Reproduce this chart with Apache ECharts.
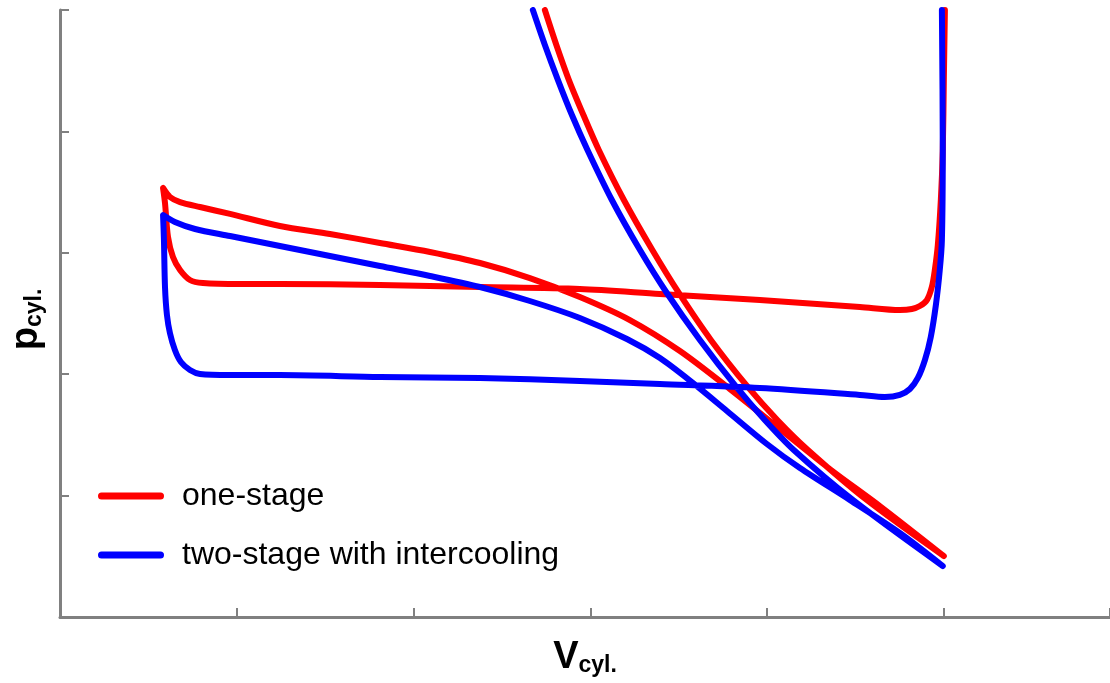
<!DOCTYPE html>
<html>
<head>
<meta charset="utf-8">
<script src="https://cdn.jsdelivr.net/npm/echarts@6/dist/echarts.min.js"></script>
<style>
  html, body { margin: 0; padding: 0; background: #fff; }
  #main { width: 1110px; height: 683px; }
</style>
</head>
<body>
<div id="main"></div>
<script>
// one-stage cycle (V, p in tick units)
var oneStageV = [2.743, 2.808, 2.879, 2.961, 3.048, 3.190, 3.351, 3.501, 3.682, 3.891, 4.058, 4.231, 4.564, 5.000,
    4.638, 4.355, 4.072, 3.790, 3.507, 3.224, 2.941, 2.658, 2.376, 2.093, 1.810, 1.527, 1.244, 0.962, 0.792, 0.679, 0.622, 0.583,
    0.594, 0.611, 0.639, 0.679, 0.735, 0.809, 1.018, 1.244, 1.810, 2.376, 2.941, 3.394, 3.959, 4.525, 4.751, 4.819, 4.864, 4.904, 4.932, 4.949, 4.966, 4.983, 4.994, 5.000, 5.006];
var oneStageP = [5.000, 4.712, 4.423, 4.135, 3.847, 3.435, 3.023, 2.669, 2.282, 1.895, 1.623, 1.376, 0.964, 0.502,
    0.914, 1.219, 1.549, 1.878, 2.191, 2.446, 2.636, 2.792, 2.916, 3.007, 3.081, 3.155, 3.221, 3.320, 3.377, 3.418, 3.460, 3.534,
    3.410, 3.130, 2.965, 2.858, 2.776, 2.751, 2.743, 2.743, 2.735, 2.718, 2.702, 2.661, 2.611, 2.554, 2.529, 2.537, 2.562, 2.611, 2.718, 2.858, 3.064, 3.435, 3.847, 4.423, 5.000];

// two-stage with intercooling
var twoStageV = [2.675, 2.743, 2.817, 2.896, 2.984, 3.122, 3.281, 3.433, 3.620, 3.826, 3.987, 4.151, 4.485, 4.994,
    4.751, 4.468, 4.186, 3.999, 3.773, 3.580, 3.394, 3.207, 2.941, 2.658, 2.376, 2.093, 1.810, 1.527, 1.244, 0.962, 0.764, 0.650, 0.583,
    0.588, 0.594, 0.605, 0.622, 0.650, 0.684, 0.735, 0.792, 0.962, 1.244, 1.810, 2.376, 2.941, 3.394, 3.959, 4.525, 4.666, 4.751, 4.808, 4.853, 4.893, 4.926, 4.955, 4.977, 4.989, 4.994, 4.989];
var twoStageP = [5.000, 4.712, 4.423, 4.135, 3.847, 3.435, 3.023, 2.669, 2.282, 1.895, 1.623, 1.376, 0.964, 0.420,
    0.692, 0.964, 1.227, 1.425, 1.697, 1.928, 2.133, 2.290, 2.463, 2.603, 2.718, 2.809, 2.891, 2.974, 3.056, 3.138, 3.196, 3.254, 3.311,
    3.105, 2.718, 2.488, 2.339, 2.199, 2.100, 2.035, 2.002, 1.993, 1.993, 1.977, 1.969, 1.944, 1.919, 1.886, 1.829, 1.812, 1.829, 1.878, 1.969, 2.117, 2.306, 2.570, 2.858, 3.105, 3.847, 5.000];

var xTicks = [0, 1, 2, 3, 4, 5];
var yTicks = [0, 1, 2, 3, 4, 5];

function zip(xs, ys) {
    var out = [];
    for (var i = 0; i < xs.length; i++) out.push([xs[i], ys[i]]);
    return out;
}

var axisGray = '#808080';
var font = 'Arial, "Liberation Sans", sans-serif';

var chart = echarts.init(document.getElementById('main'), null, {renderer: 'canvas'});

var option = {
    animation: false,
    backgroundColor: '#fff',
    grid: {left: 60, right: 0, top: 10, bottom: 66},
    legend: {
        orient: 'vertical',
        left: 93,
        top: 475,
        itemWidth: 66,
        itemHeight: 7,
        itemGap: 27,
        icon: 'path://M3.5,0 H62.5 A3.5,3.5 0 0 1 62.5,7 H3.5 A3.5,3.5 0 0 1 3.5,0 Z',
        textStyle: {fontFamily: font, fontSize: 32, color: '#000', padding: [0, 0, 0, 13]},
        data: ['one-stage', 'two-stage with intercooling']
    },
    xAxis: {
        type: 'value',
        min: xTicks[0],
        max: 5.94,
        interval: 1,
        name: '{v|V}{s|cyl.}',
        nameLocation: 'middle',
        nameGap: 20,
        nameTextStyle: {
            rich: {
                v: {fontFamily: font, fontSize: 38, fontWeight: 'bold', color: '#000', lineHeight: 40, verticalAlign: 'bottom'},
                s: {fontFamily: font, fontSize: 23, fontWeight: 'bold', color: '#000', lineHeight: 16, verticalAlign: 'bottom'}
            }
        },
        axisLine: {lineStyle: {color: axisGray, width: 3}},
        axisTick: {inside: true, length: 9, lineStyle: {color: axisGray, width: 2}},
        axisLabel: {show: false},
        splitLine: {show: false}
    },
    yAxis: {
        type: 'value',
        min: yTicks[0],
        max: yTicks[yTicks.length - 1],
        interval: 1,
        name: '{v|p}{s|cyl.}',
        nameLocation: 'middle',
        nameGap: 14,
        nameTextStyle: {
            rich: {
                v: {fontFamily: font, fontSize: 38, fontWeight: 'bold', color: '#000', lineHeight: 40, verticalAlign: 'bottom'},
                s: {fontFamily: font, fontSize: 23, fontWeight: 'bold', color: '#000', lineHeight: 16, verticalAlign: 'bottom', padding: [0, 12, 0, 0]}
            }
        },
        axisLine: {lineStyle: {color: axisGray, width: 3}},
        axisTick: {inside: true, length: 9, lineStyle: {color: axisGray, width: 2}},
        axisLabel: {show: false},
        splitLine: {show: false}
    },
    series: [
        {
            name: 'one-stage',
            type: 'line',
            data: zip(oneStageV, oneStageP),
            showSymbol: false,
            symbol: 'none',
            smooth: 0.3,
            clip: true,
            color: '#ff0000',
            lineStyle: {color: '#ff0000', width: 6, cap: 'round', join: 'round'}
        },
        {
            name: 'two-stage with intercooling',
            type: 'line',
            data: zip(twoStageV, twoStageP),
            showSymbol: false,
            symbol: 'none',
            smooth: 0.3,
            clip: true,
            color: '#0000ff',
            lineStyle: {color: '#0000ff', width: 6, cap: 'round', join: 'round'}
        }
    ]
};

chart.setOption(option);
</script>
</body>
</html>
